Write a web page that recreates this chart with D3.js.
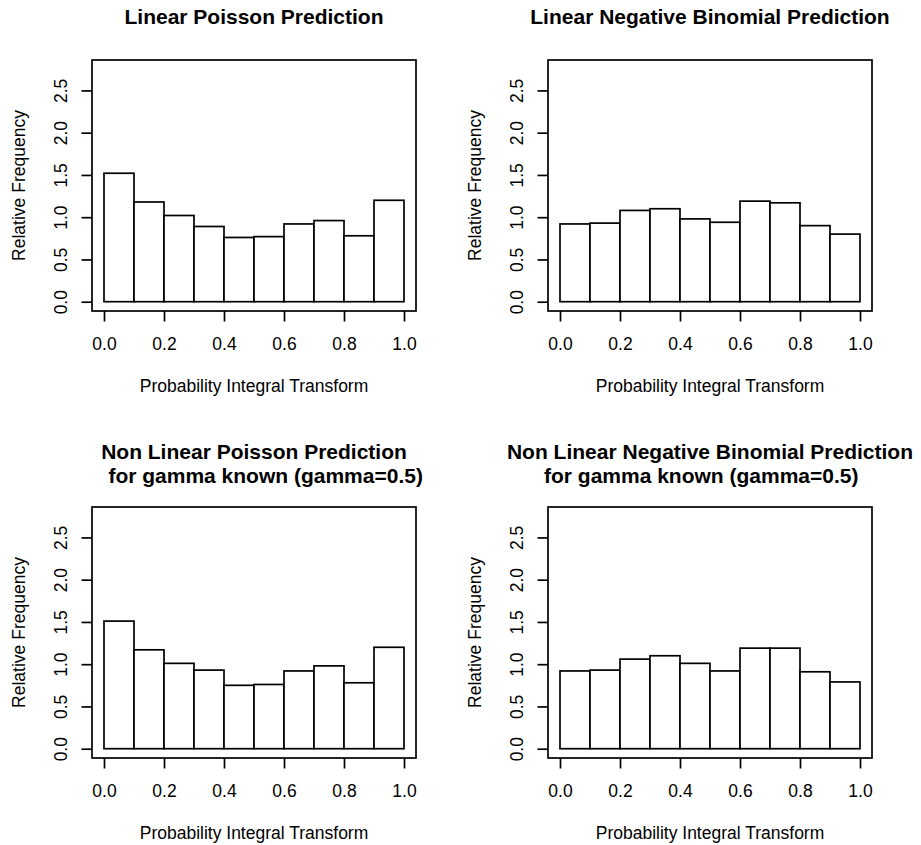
<!DOCTYPE html>
<html>
<head>
<meta charset="utf-8">
<script src="https://cdn.jsdelivr.net/npm/d3@7"></script>
<style>
  body { margin: 0; background: #fff; }
  text { font-family: "Liberation Sans", Arial, Helvetica, sans-serif; fill: #000; }
</style>
</head>
<body>
<svg id="chart" width="921" height="845"></svg>
<script>
// bin edges of the PIT histograms (10 equal bins)
let binEdges = [0, 0.1, 0.2, 0.3, 0.4, 0.5, 0.6, 0.7, 0.8, 0.9, 1.0];

// relative frequencies
let linPoisson = [1.52, 1.18, 1.02, 0.89, 0.76, 0.77, 0.92, 0.96, 0.78, 1.2];
let linNegBin = [0.92, 0.93, 1.08, 1.1, 0.98, 0.94, 1.19, 1.17, 0.9, 0.8];
let nonlinPoisson = [1.51, 1.17, 1.01, 0.93, 0.75, 0.76, 0.92, 0.98, 0.78, 1.2];
let nonlinNegBin = [0.92, 0.93, 1.06, 1.1, 1.01, 0.92, 1.19, 1.19, 0.91, 0.79];

let xTicks = [0, 0.2, 0.4, 0.6, 0.8, 1.0];
let yTicks = [0, 0.5, 1.0, 1.5, 2.0, 2.5];

let title1 = ["Linear Poisson Prediction"],
  title2 = ["Linear Negative Binomial Prediction"],
  title3 = ["Non Linear Poisson Prediction", "    for gamma known (gamma=0.5)"],
  title4 = ["Non Linear Negative Binomial Prediction", "for gamma known (gamma=0.5)   "];

let xLabel = "Probability Integral Transform",
  yLabel = "Relative Frequency";

let boxW = 324,
  boxH = 251;

let svg = d3.select("#chart");

drawPanel(92, 60, linPoisson, title1);
drawPanel(548, 60, linNegBin, title2);
drawPanel(92, 507, nonlinPoisson, title3);
drawPanel(548, 507, nonlinNegBin, title4);

function drawPanel(left, top, values, titleLines) {
  let g = svg.append("g");

  // R style: limits extended by 4% on both sides
  let x = d3.scaleLinear().domain([-0.04, 1.04]).range([left, left + boxW]);
  let y = d3.scaleLinear().domain([-0.11, 2.86]).range([top + boxH, top]);

  let bins = values.map((v, i) => ({ x0: binEdges[i], x1: binEdges[i + 1], v: v }));

  g.selectAll("rect.bar")
    .data(bins)
    .enter()
    .append("rect")
    .attr("class", "bar")
    .attr("x", (d) => x(d.x0))
    .attr("y", (d) => y(d.v))
    .attr("width", (d) => x(d.x1) - x(d.x0))
    .attr("height", (d) => y(0) - y(d.v))
    .attr("fill", "#fff")
    .attr("stroke", "#000")
    .attr("stroke-width", 1.7);

  // box round the plot region
  g.append("rect")
    .attr("x", left)
    .attr("y", top)
    .attr("width", boxW)
    .attr("height", boxH)
    .attr("fill", "none")
    .attr("stroke", "#000")
    .attr("stroke-width", 1.7);

  // x axis
  let xa = g
    .append("g")
    .attr("transform", "translate(0," + (top + boxH) + ")")
    .call(
      d3.axisBottom(x)
        .tickValues(xTicks)
        .tickSize(10.5)
        .tickSizeOuter(0)
        .tickFormat(d3.format(".1f"))
    );
  xa.select(".domain").remove();
  xa.selectAll("line").attr("stroke", "#000").attr("stroke-width", 1.7);
  xa.selectAll("text")
    .attr("y", 39)
    .attr("dy", 0)
    .attr("font-size", "17.5px")
    .attr("font-family", null)
    .attr("fill", "#000");

  // y axis, labels rotated like R's las=0
  let ya = g
    .append("g")
    .attr("transform", "translate(" + left + ",0)")
    .call(
      d3.axisLeft(y)
        .tickValues(yTicks)
        .tickSize(10.5)
        .tickSizeOuter(0)
        .tickFormat(d3.format(".1f"))
    );
  ya.select(".domain").remove();
  ya.selectAll("line").attr("stroke", "#000").attr("stroke-width", 1.7);
  ya.selectAll("text")
    .attr("transform", "rotate(-90)")
    .attr("x", 0)
    .attr("y", -25)
    .attr("dy", 0)
    .attr("font-size", "17.5px")
    .attr("font-family", null)
    .attr("fill", "#000")
    .style("text-anchor", "middle");

  // axis titles
  g.append("text")
    .attr("x", x(0.5))
    .attr("y", top + boxH + 81)
    .attr("font-size", "17.5px")
    .style("text-anchor", "middle")
    .text(xLabel);

  g.append("text")
    .attr("transform", "translate(" + (left - 67.5) + "," + (top + boxH / 2) + ") rotate(-90)")
    .attr("font-size", "17.5px")
    .style("text-anchor", "middle")
    .text(yLabel);

  // main title, block centred on the same line as a single line title
  let n = titleLines.length;
  titleLines.forEach((line, i) => {
    g.append("text")
      .attr("x", x(0.5))
      .attr("y", top - 36 + (i - (n - 1) / 2) * 24)
      .attr("font-size", "21px")
      .attr("font-weight", "bold")
      .style("text-anchor", "middle")
      .style("white-space", "pre")
      .text(line);
  });
}
</script>
</body>
</html>
